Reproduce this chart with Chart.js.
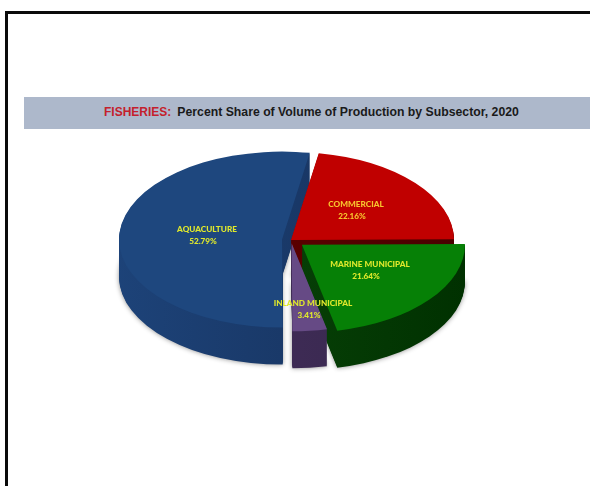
<!DOCTYPE html>
<html>
<head>
<meta charset="utf-8">
<title>Fisheries production by subsector</title>
<script src="https://cdn.jsdelivr.net/npm/chart.js@4"></script>
<style>
  html, body { margin: 0; background: #fff; }
  body { position: relative; width: 590px; height: 486px; overflow: hidden; }
  #frame { position: absolute; left: 5px; top: 11px; width: 600px; height: 500px; border: 3px solid #0a0a0a; box-sizing: border-box; }
  #banner {
    position: absolute; left: 24px; top: 97px; width: 566px; height: 32px;
    background: #adb8cb;
    font: bold 12.25px/31px "Liberation Sans", Arial, sans-serif; color: #1a1a1a;
  }
  #banner div { position: absolute; left: 80px; top: 0; white-space: pre; }
  #banner span { color: #c4202c; font-size: 12px; margin-right: 6px; }
  #pie { position: absolute; left: 0; top: 0; }
</style>
</head>
<body>
<div id="frame"></div>
<div id="banner"><div><span>FISHERIES:</span>Percent Share of Volume of Production by Subsector, 2020</div></div>
<canvas id="pie" width="590" height="486"></canvas>
<script>
const categories = ['COMMERCIAL', 'MARINE MUNICIPAL', 'INLAND MUNICIPAL', 'AQUACULTURE'];
const shareValues = [22.16, 21.64, 3.41, 52.79];

const topColors = ['#c00000', '#068006', '#664a85', '#1e477e'];
const wallColors = [
  ['#6a0000', '#4a0000'],
  ['#0b4a0b', '#003000'],
  ['#46305f', '#35264a'],
  ['#1d4379', '#16305a']
];
// how far each slice is pulled out of the pie, and where its label goes
const sliceShift = [0, 14, 6, 9];
const labelSpots = [[356, 204], [370, 264], [313, 303], [207, 229]];
const drawOrder = [3, 0, 1, 2];

const squash = 0.54;
const depth = 37;

function sliceCenter(arc, i) {
  const mid = (arc.startAngle + arc.endAngle) / 2;
  return [Math.cos(mid) * sliceShift[i], Math.sin(mid) * sliceShift[i]];
}

function tilt(ctx, arc, dy) {
  ctx.translate(arc.x, arc.y + dy);
  ctx.scale(1, squash);
  ctx.translate(-arc.x, -arc.y);
}

const tiltedPie = {
  id: 'tiltedPie',
  beforeDatasetsDraw(chart) {
    const ctx = chart.ctx;
    const arcs = chart.getDatasetMeta(0).data;

    drawOrder.forEach(i => {
      const arc = arcs[i];
      const [sx, sy] = sliceCenter(arc, i);
      const r = arc.outerRadius;

      // side wall: the slice stacked downward, deepest layer first
      const wall = ctx.createLinearGradient(arc.x + sx - r, 0, arc.x + sx + r, 0);
      wall.addColorStop(0, wallColors[i][0]);
      wall.addColorStop(1, wallColors[i][1]);
      for (let d = depth; d > 0; d--) {
        ctx.save();
        tilt(ctx, arc, d);
        if (d === depth) {
          ctx.shadowColor = 'rgba(0,0,0,0.45)';
          ctx.shadowBlur = 5;
        }
        ctx.translate(sx, sy);
        ctx.fillStyle = wall;
        ctx.beginPath();
        ctx.moveTo(arc.x, arc.y);
        ctx.arc(arc.x, arc.y, r, arc.startAngle, arc.endAngle);
        ctx.closePath();
        ctx.fill();
        ctx.restore();
      }

      ctx.save();
      tilt(ctx, arc, 0);
      ctx.translate(sx, sy);
      arc.draw(ctx);
      ctx.restore();
    });

    // labels sit on top of every slice
    ctx.save();
    ctx.font = '900 8.2px Lato, sans-serif';
    ctx.textAlign = 'center';
    ctx.textBaseline = 'middle';
    drawOrder.forEach(i => {
      const [lx, ly] = labelSpots[i];
      ctx.fillStyle = i === 0 ? '#f7c52e' : '#dfe82c';
      ctx.fillText(categories[i], lx, ly);
      ctx.fillText(shareValues[i].toFixed(2) + '%', lx - 4, ly + 12);
    });
    ctx.restore();

    return false;
  }
};

new Chart(document.getElementById('pie'), {
  type: 'pie',
  data: {
    labels: categories,
    datasets: [{
      data: shareValues,
      backgroundColor: topColors,
      borderWidth: 0
    }]
  },
  options: {
    responsive: false,
    animation: false,
    rotation: 9.8,
    radius: 163,
    layout: { padding: { right: 8, bottom: 6 } },
    plugins: {
      legend: { display: false },
      tooltip: { enabled: false }
    }
  },
  plugins: [tiltedPie]
});
</script>
</body>
</html>
